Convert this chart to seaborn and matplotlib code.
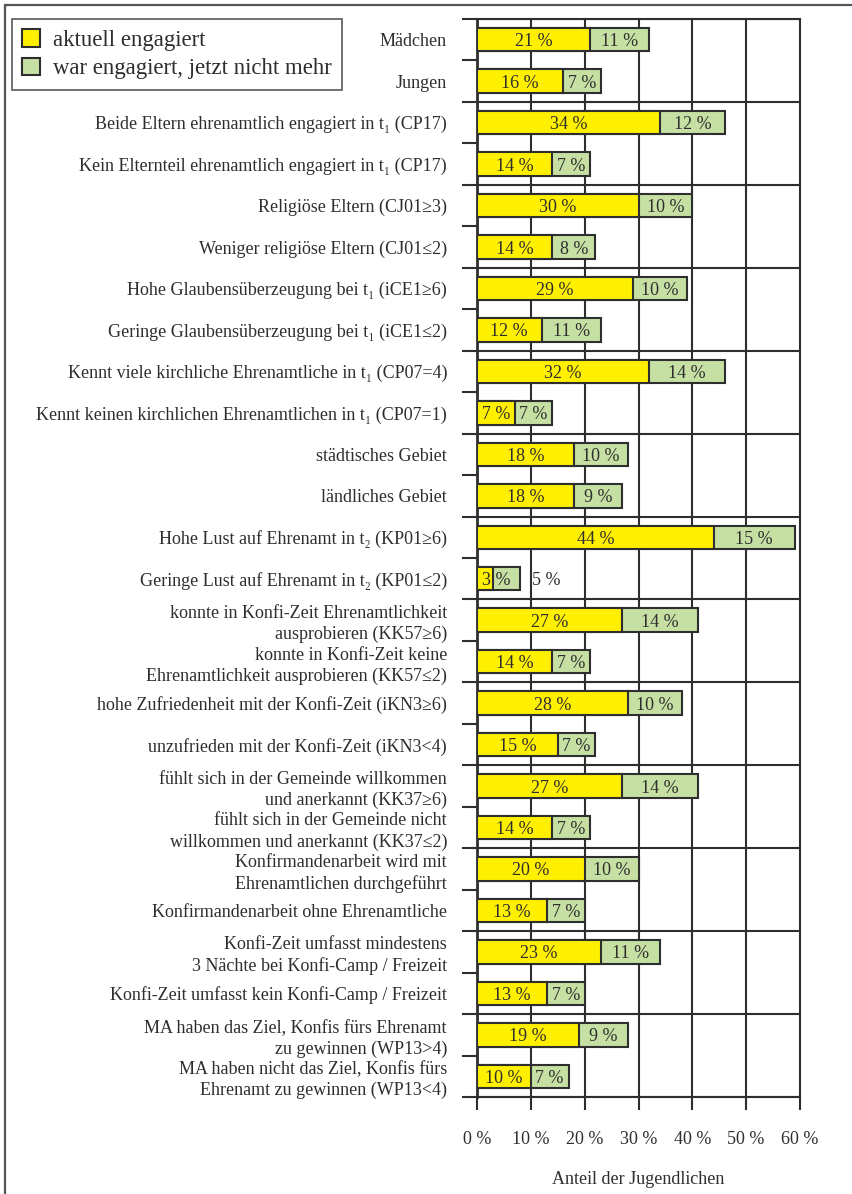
import numpy as np
import pandas as pd
import matplotlib
matplotlib.use("Agg")
import matplotlib.pyplot as plt
from matplotlib.patches import Patch
from matplotlib.lines import Line2D
import seaborn as sns

categories = [
    "Mädchen",
    "Jungen",
    "Beide Eltern ehrenamtlich engagiert in t\u2081 (CP17)",
    "Kein Elternteil ehrenamtlich engagiert in t\u2081 (CP17)",
    "Religiöse Eltern (CJ01\u22653)",
    "Weniger religiöse Eltern (CJ01\u22642)",
    "Hohe Glaubensüberzeugung bei t\u2081 (iCE1\u22656)",
    "Geringe Glaubensüberzeugung bei t\u2081 (iCE1\u22642)",
    "Kennt viele kirchliche Ehrenamtliche in t\u2081 (CP07=4)",
    "Kennt keinen kirchlichen Ehrenamtlichen in t\u2081 (CP07=1)",
    "städtisches Gebiet",
    "ländliches Gebiet",
    "Hohe Lust auf Ehrenamt in t\u2082 (KP01\u22656)",
    "Geringe Lust auf Ehrenamt in t\u2082 (KP01\u22642)",
    "konnte in Konfi-Zeit Ehrenamtlichkeit\nausprobieren (KK57\u22656)",
    "konnte in Konfi-Zeit keine\nEhrenamtlichkeit ausprobieren (KK57\u22642)",
    "hohe Zufriedenheit mit der Konfi-Zeit (iKN3\u22656)",
    "unzufrieden mit der Konfi-Zeit (iKN3<4)",
    "fühlt sich in der Gemeinde willkommen\nund anerkannt (KK37\u22656)",
    "fühlt sich in der Gemeinde nicht\nwillkommen und anerkannt (KK37\u22642)",
    "Konfirmandenarbeit wird mit\nEhrenamtlichen durchgeführt",
    "Konfirmandenarbeit ohne Ehrenamtliche",
    "Konfi-Zeit umfasst mindestens\n3 Nächte bei Konfi-Camp / Freizeit",
    "Konfi-Zeit umfasst kein Konfi-Camp / Freizeit",
    "MA haben das Ziel, Konfis fürs Ehrenamt\nzu gewinnen (WP13>4)",
    "MA haben nicht das Ziel, Konfis fürs\nEhrenamt zu gewinnen (WP13<4)",
]
aktuell = [21, 16, 34, 14, 30, 14, 29, 12, 32, 7, 18, 18, 44, 3, 27, 14, 28, 15, 27, 14, 20, 13, 23, 13, 19, 10]
frueher = [11, 7, 12, 7, 10, 8, 10, 11, 14, 7, 10, 9, 15, 5, 14, 7, 10, 7, 14, 7, 10, 7, 11, 7, 9, 7]
series_names = ["aktuell engagiert", "war engagiert, jetzt nicht mehr"]
x_ticks = [0, 10, 20, 30, 40, 50, 60]
x_tick_labels = ["0 %", "10 %", "20 %", "30 %", "40 %", "50 %", "60 %"]
x_label = "Anteil der Jugendlichen"

YELLOW = "#FFF000"
GREEN = "#C6E0A4"
DARK = "#2E2E2E"

sns.set_theme(style="white")
plt.rcParams["font.family"] = ["Liberation Serif", "DejaVu Serif"]
plt.rcParams["text.color"] = DARK

W, H = 852, 1194
fig = plt.figure(figsize=(W / 100, H / 100), dpi=100)
ax = fig.add_axes([477 / W, 1 - 1097 / H, (800 - 477) / W, (1097 - 19) / H])

df = pd.DataFrame({"cat": categories, "a": aktuell, "f": frueher})
df["total"] = df["a"] + df["f"]

bw = 0.565
sns.barplot(data=df, x="total", y="cat", orient="h", color=GREEN, saturation=1,
            width=bw, edgecolor=DARK, linewidth=1.5, ax=ax, zorder=3)
sns.barplot(data=df, x="a", y="cat", orient="h", color=YELLOW, saturation=1,
            width=bw, edgecolor=DARK, linewidth=1.5, ax=ax, zorder=4)

fs = 13
for i, (a, f) in enumerate(zip(aktuell, frueher)):
    if a < 4:
        ax.text(1.0, i, f"{a} %", ha="left", va="center_baseline", fontsize=fs, color=DARK, zorder=5)
    else:
        ax.text(a / 2, i, f"{a} %", ha="center", va="center_baseline", fontsize=fs, color=DARK, zorder=5)
    if f < 6 and a < 4:
        ax.text(a + f + 2.3, i, f"{f} %", ha="left", va="center_baseline", fontsize=fs, color=DARK, zorder=5)
    else:
        ax.text(a + f / 2, i, f"{f} %", ha="center", va="center_baseline", fontsize=fs, color=DARK, zorder=5)

n = len(categories)
ax.set_xlim(0, 60)
ax.set_ylim(n - 0.5, -0.5)

# grid
for xv in x_ticks[1:-1]:
    ax.axvline(xv, color=DARK, lw=1.5, zorder=1)
for yb in np.arange(-0.5, n, 2):
    ax.axhline(yb, color=DARK, lw=1.5, zorder=1)

for s in ax.spines.values():
    s.set_color(DARK)
    s.set_linewidth(1.5)
ax.spines["left"].set_linewidth(2)

ax.set_xticks(x_ticks)
ax.set_xticklabels(x_tick_labels, fontsize=fs, color=DARK)
ax.tick_params(axis="x", which="major", direction="out", length=9.4, width=1.5,
               color=DARK, pad=15, bottom=True)
ax.set_xlabel(x_label, fontsize=fs, color=DARK, labelpad=17)

ax.set_yticks(range(n))
ax.set_yticklabels(categories, fontsize=fs, color=DARK, linespacing=1.3)
ax.set_ylabel("")
ax.set_yticks(np.arange(-0.5, n, 1), minor=True)
ax.tick_params(axis="y", which="major", length=0, pad=21.6, left=False)
ax.tick_params(axis="y", which="minor", direction="out", length=10.8, width=1.5,
               color=DARK, left=True)

# legend
handles = [Patch(facecolor=YELLOW, edgecolor=DARK, linewidth=1.5),
           Patch(facecolor=GREEN, edgecolor=DARK, linewidth=1.5)]
leg = fig.legend(handles, series_names, loc="upper left",
                 bbox_to_anchor=(12 / W, 1 - 19 / H), fontsize=16.4,
                 handlelength=0.8, handleheight=0.8, handletextpad=0.57,
                 labelspacing=0.3, borderpad=0.45, borderaxespad=0,
                 fancybox=False, frameon=True, labelcolor=DARK)
leg.get_frame().set_edgecolor(DARK)
leg.get_frame().set_linewidth(1.2)

# outer frame (top and left)
fig.add_artist(Line2D([4.5 / W, 1], [1 - 4.5 / H, 1 - 4.5 / H], color="#555555", lw=1.6,
                      transform=fig.transFigure))
fig.add_artist(Line2D([4.5 / W, 4.5 / W], [0, 1 - 4.5 / H], color="#555555", lw=1.6,
                      transform=fig.transFigure))

fig.savefig("out.png", dpi=100)
